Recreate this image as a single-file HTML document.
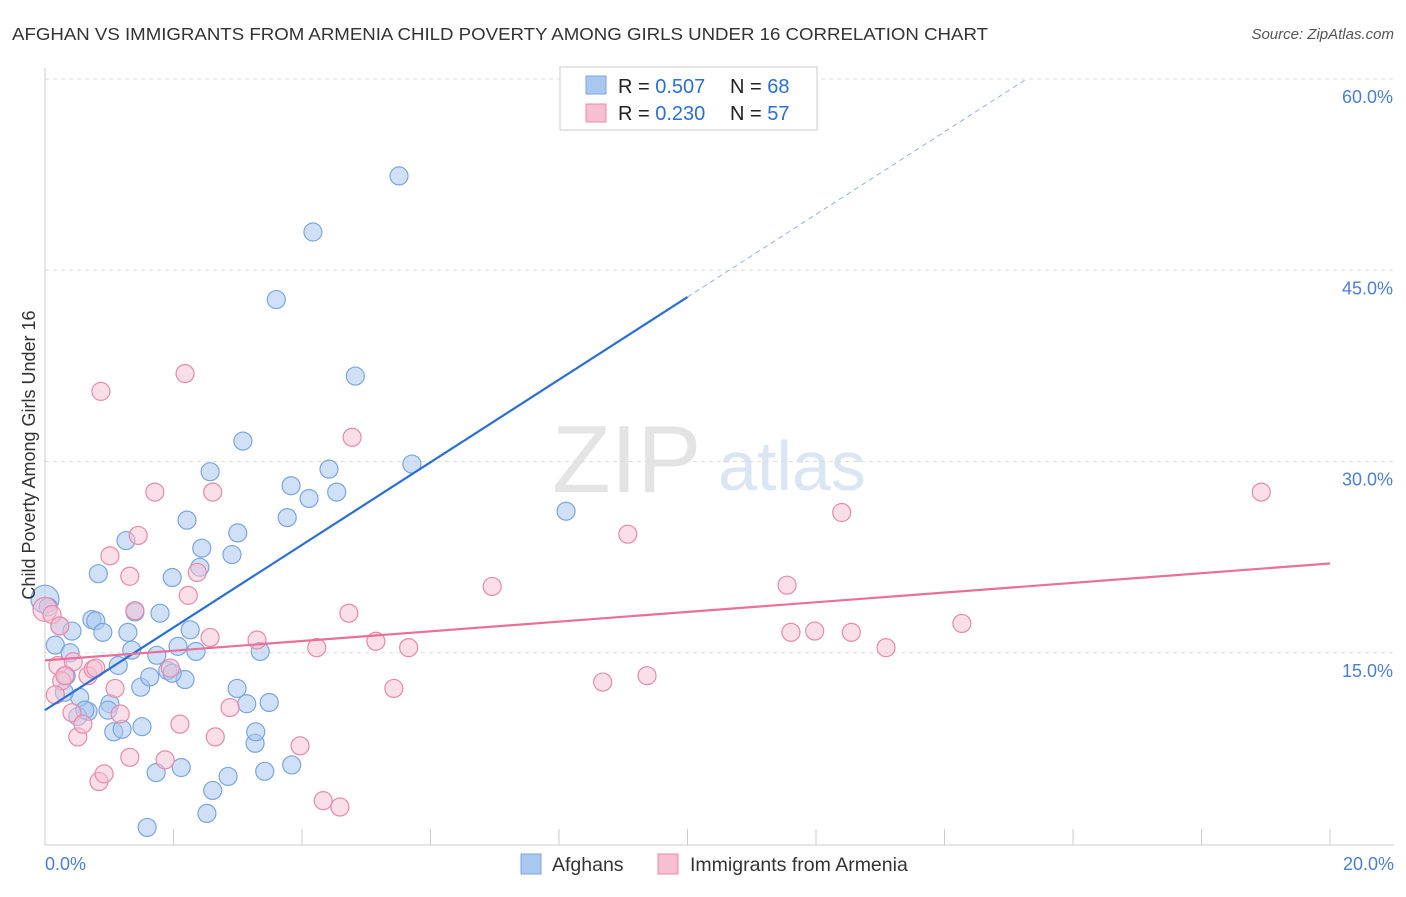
<!DOCTYPE html>
<html><head><meta charset="utf-8"><style>
body{margin:0;background:#fff;font-family:"Liberation Sans",sans-serif;}
svg text{font-family:"Liberation Sans",sans-serif;}
</style></head><body>
<svg id="chart" width="1406" height="892" viewBox="0 0 1406 892">
<text x="12" y="40" font-size="17.5" fill="#333" textLength="976" lengthAdjust="spacingAndGlyphs">AFGHAN VS IMMIGRANTS FROM ARMENIA CHILD POVERTY AMONG GIRLS UNDER 16 CORRELATION CHART</text>
<text x="1394" y="39" font-size="15" fill="#555" font-style="italic" text-anchor="end">Source: ZipAtlas.com</text>
<g>
<text x="552" y="492" font-size="96" fill="#e4e4e4" font-family="Liberation Serif,serif">ZIP</text>
<text x="718" y="490" font-size="70" fill="#dbe6f5">atlas</text>
</g>
<g id="grid"></g>
<g id="axes"></g>
<g id="pts"></g>
<g id="lines"></g>
<text x="35" y="455" font-size="18" fill="#333" transform="rotate(-90 35 455)" text-anchor="middle">Child Poverty Among Girls Under 16</text>
<g>
<rect x="560" y="67" width="257" height="63" fill="#fff" stroke="#ccc"/>
<rect x="586" y="76" width="20" height="18" fill="#a9c8f0" stroke="#7aa6e0"/>
<rect x="586" y="104" width="20" height="18" fill="#f7bfd2" stroke="#e88aa8"/>
<text x="618" y="93" font-size="20" fill="#222">R = <tspan fill="#2a6fd6">0.507</tspan></text>
<text x="730" y="93" font-size="20" fill="#222">N = <tspan fill="#2a6fd6">68</tspan></text>
<text x="618" y="120" font-size="20" fill="#222">R = <tspan fill="#2a6fd6">0.230</tspan></text>
<text x="730" y="120" font-size="20" fill="#222">N = <tspan fill="#2a6fd6">57</tspan></text>
</g>
<g>
<rect x="521" y="854" width="20" height="20" fill="#a9c8f0" stroke="#7aa6e0"/>
<text x="552" y="871" font-size="19.5" fill="#333">Afghans</text>
<rect x="658" y="854" width="20" height="20" fill="#f7bfd2" stroke="#e88aa8"/>
<text x="690" y="871" font-size="19.5" fill="#333">Immigrants from Armenia</text>
</g>
</svg>
<script>
const yTicks=[15,30,45,60];
const yTickLabels=["15.0%","30.0%","45.0%","60.0%"];
const xTickLabels=["0.0%","20.0%"];
const blueX=[0,0.05,0.16,0.23,0.42,0.39,0.83,0.73,0.79,0.9,1.26,1.29,1.4,1.35,1.74,1.79,1.98,2.21,2.26,2.07,1.91,2.18,1.49,1.63,1.14,1.01,0.98,0.67,0.54,0.3,0.33,0.51,0.62,1.07,1.2,1.51,1.73,1.59,2.12,2.61,2.52,2.85,3.42,3.84,3.27,3.28,2.99,3.14,3.49,3.35,2.35,2.41,2.44,2.91,3.0,2.57,3.08,3.77,3.83,4.11,4.42,4.54,4.83,3.6,4.17,5.51,5.71,8.11,1.98];
const blueY=[19.2,18.6,15.6,17.1,16.7,15.0,21.2,17.6,17.5,16.6,23.8,16.6,18.2,15.2,14.8,18.1,20.9,25.4,16.8,15.5,13.6,12.9,12.3,13.1,14.0,11.0,10.5,10.4,11.5,11.9,13.2,10.0,10.5,8.8,9.0,9.2,5.6,1.3,6.0,4.2,2.4,5.3,5.7,6.2,7.9,8.8,12.2,11.0,11.1,15.1,15.1,21.7,23.2,22.7,24.4,29.2,31.6,25.6,28.1,27.1,29.4,27.6,36.7,42.7,48.0,52.4,29.8,26.1,13.4];
const pinkX=[0,0.11,0.23,0.2,0.26,0.44,0.16,0.31,0.42,0.51,0.59,0.67,0.75,0.84,0.92,0.87,1.01,1.09,1.17,1.32,1.32,1.45,1.4,1.71,1.87,1.95,2.1,2.18,2.23,2.37,2.57,2.61,2.65,2.88,3.3,3.97,4.23,4.33,4.59,4.73,4.78,5.15,5.43,5.66,6.96,8.68,9.07,9.37,11.55,11.61,11.98,12.4,12.55,13.09,14.27,18.93,0.79];
const pinkY=[18.4,18.0,17.1,14.0,12.8,14.3,11.7,13.2,10.3,8.4,9.4,13.2,13.7,4.9,5.5,35.5,22.6,12.2,10.2,21.0,6.8,24.2,18.3,27.6,6.6,13.8,9.4,36.9,19.5,21.3,16.2,27.6,8.4,10.7,16.0,7.7,15.4,3.4,2.9,18.1,31.9,15.9,12.2,15.4,20.2,12.7,24.3,13.2,20.3,16.6,16.7,26.0,16.6,15.4,17.3,27.6,13.8];
const blueSize=[14,9,9,9,9,9,9,9,9,9,9,9,9,9,9,9,9,9,9,9,9,9,9,9,9,9,9,9,9,9,9,9,9,9,9,9,9,9,9,9,9,9,9,9,9,9,9,9,9,9,9,9,9,9,9,9,9,9,9,9,9,9,9,9,9,9,9,9,9];
const pinkSize=[12,9,9,9,9,9,9,9,9,9,9,9,9,9,9,9,9,9,9,9,9,9,9,9,9,9,9,9,9,9,9,9,9,9,9,9,9,9,9,9,9,9,9,9,9,9,9,9,9,9,9,9,9,9,9,9,9];
const blueLine=[10.5,42.9];  // y at x=0 and x=10 (%)
const pinkLine=[14.4,22.0]; // y at x=0 and x=20
const X0=45,X1=1330,Y0=844,PXY=12.75;
const sx=v=>X0+(X1-X0)*v/20, sy=v=>Y0-v*PXY;
const NS="http://www.w3.org/2000/svg";
function mk(tag,attrs,parent){const e=document.createElementNS(NS,tag);for(const k in attrs)e.setAttribute(k,attrs[k]);parent.appendChild(e);return e;}
const grid=document.getElementById('grid'),axes=document.getElementById('axes'),pts=document.getElementById('pts'),lines=document.getElementById('lines');
yTicks.forEach((t,i)=>{
 const g=mk('line',{x1:X0,x2:1394,y1:sy(t),y2:sy(t),stroke:'#ddd','stroke-dasharray':'4,4'},grid);
 
 
 const l=mk('text',{x:1393,y:sy(t)+24,'font-size':18,fill:'#4a7fd4','text-anchor':'end'},axes);
 l.textContent=yTickLabels[i];
 
 
});
const ax=mk('line',{x1:X0,x2:X0,y1:68,y2:Y0+1,stroke:'#ccc'},axes);


const bx=mk('line',{x1:X0,x2:1394,y1:Y0+1,y2:Y0+1,stroke:'#ccc'},axes);


for(let i=0;i<=10;i++){
 const t=mk('line',{x1:sx(i*2),x2:sx(i*2),y1:829,y2:Y0+1,stroke:'#ccc'},axes);
 
 
}
[[0,'start',X0],[1,'end',1394]].forEach(([i,a,x])=>{
 const l=mk('text',{x:x,y:870,'font-size':18,fill:'#4a7fd4','text-anchor':a},axes);
 l.textContent=xTickLabels[i];
 
 
});
blueX.forEach((v,i)=>{
 const c=mk('circle',{cx:sx(v),cy:sy(blueY[i]),r:blueSize[i],fill:'rgba(169,200,240,0.55)',stroke:'#7aa6e0','stroke-width':1.2},pts);
 
 
});
pinkX.forEach((v,i)=>{
 const c=mk('circle',{cx:sx(v),cy:sy(pinkY[i]),r:pinkSize[i],fill:'rgba(247,191,210,0.5)',stroke:'#e88aa8','stroke-width':1.2},pts);
 
 
});
const bs=(blueLine[1]-blueLine[0])/10;
const bl=mk('line',{x1:sx(0),y1:sy(blueLine[0]),x2:sx(10),y2:sy(blueLine[1]),stroke:'#2a6fd6','stroke-width':2.2},lines);


const xe=(59.9-blueLine[0])/bs;
const bd=mk('line',{x1:sx(10),y1:sy(blueLine[1]),x2:sx(xe),y2:sy(59.9),stroke:'#8fb2e8','stroke-width':1,'stroke-dasharray':'5,4'},lines);


const pl=mk('line',{x1:sx(0),y1:sy(pinkLine[0]),x2:sx(20),y2:sy(pinkLine[1]),stroke:'#e8709a','stroke-width':2.2},lines);


</script>
</body></html>
